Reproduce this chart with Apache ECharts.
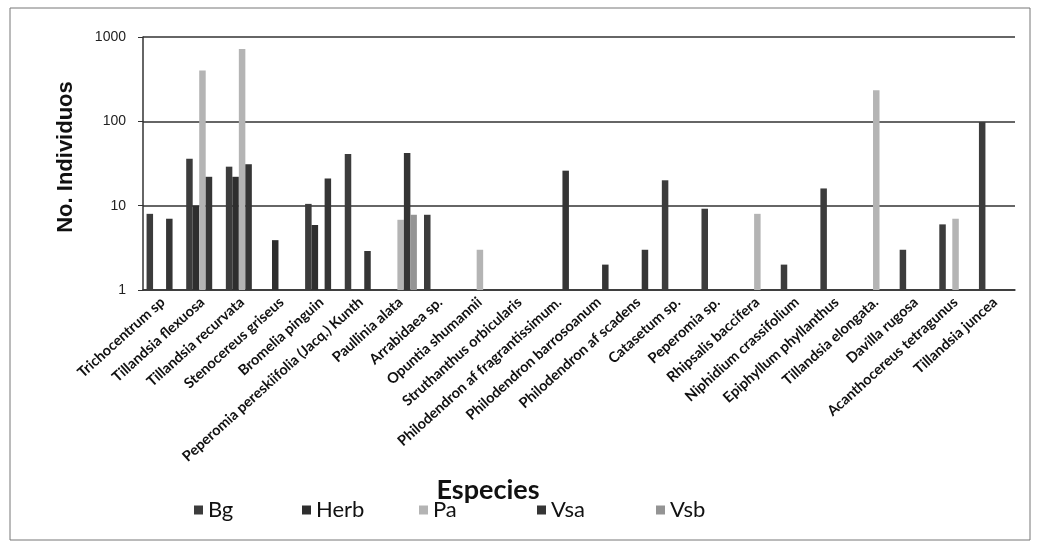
<!DOCTYPE html>
<html>
<head>
<meta charset="utf-8">
<script src="https://cdn.jsdelivr.net/npm/echarts@6/dist/echarts.min.js"></script>
<style>
  html, body { margin: 0; padding: 0; background: #fff; }
  #chart { width: 1040px; height: 545px; }
</style>
</head>
<body>
<div id="chart"></div>
<script>
// especies (eje x)
const especies = [
  'Trichocentrum sp', 'Tillandsia flexuosa', 'Tillandsia recurvata', 'Stenocereus griseus',
  'Bromelia pinguin', 'Peperomia pereskiifolia (Jacq.) Kunth', 'Paullinia alata', 'Arrabidaea sp.',
  'Opuntia shumannii', 'Struthanthus orbicularis', 'Philodendron af fragrantissimum.',
  'Philodendron barrosoanum', 'Philodendron af scadens', 'Catasetum sp.', 'Peperomia sp.',
  'Rhipsalis baccifera', 'Niphidium crassifolium', 'Epiphyllum phyllanthus', 'Tillandsia elongata.',
  'Davilla rugosa', 'Acanthocereus tetragunus', 'Tillandsia juncea'
]

// no. de individuos por sitio (null = sin registro)
const bg   = [8, 36, 29, null, 10.5, 41, null, 7.8, null, null, null, null, null, 20, 9.2, null, 2, 16, null, 3, 6, 98]
const herb = [null, 10, 22, 3.9, 5.9, null, null, null, null, null, null, null, null, null, null, null, null, null, null, null, null, null]
const pa   = [null, 400, 720, null, null, null, 6.8, null, 3, null, null, null, null, null, null, 8, null, null, 233, null, 7, null]
const vsa  = [7, 22, 31, null, 21, 2.9, 42, null, null, null, 26, 2, 3, null, null, null, null, null, null, null, null, null]
const vsb  = [null, null, null, null, null, null, 7.8, null, null, null, null, null, null, null, null, null, null, null, null, null, null, null]

const yTicks = [1, 10, 100, 1000]

const chart = echarts.init(document.getElementById('chart'))

function barSerie(name, data, color) {
  return {
    name: name,
    type: 'bar',
    data: data,
    barWidth: 6.5,
    barGap: '0%',
    itemStyle: { color: color }
  }
}

// una leyenda por serie para colocarlas como en el original
function legendItem(name, left) {
  return {
    data: [name],
    left: left,
    top: 499,
    padding: 0,
    itemWidth: 9,
    itemHeight: 9,
    itemGap: 0,
    icon: 'rect',
    textStyle: { fontFamily: 'Lato', fontSize: 22, color: '#111' }
  }
}

chart.setOption({
  animation: false,
  backgroundColor: '#fff',
  grid: { left: 143, right: 25, top: 37, bottom: 255 },
  legend: [
    legendItem('Bg', 194),
    legendItem('Herb', 302),
    legendItem('Pa', 419),
    legendItem('Vsa', 537),
    legendItem('Vsb', 656)
  ],
  xAxis: {
    type: 'category',
    data: especies,
    axisTick: { show: false },
    axisLine: { lineStyle: { color: '#333', width: 1.5 } },
    axisLabel: {
      interval: 0,
      rotate: 42,
      margin: 10,
      fontFamily: 'Lato',
      fontWeight: 'bold',
      fontSize: 14.5,
      color: '#111'
    }
  },
  yAxis: {
    type: 'log',
    logBase: 10,
    min: yTicks[0],
    max: yTicks[yTicks.length - 1],
    axisLine: { show: true, lineStyle: { color: '#333', width: 1.5 } },
    axisTick: { show: true, length: 5, lineStyle: { color: '#333' } },
    axisLabel: {
      margin: 17,
      fontFamily: 'Liberation Sans',
      fontSize: 14,
      color: '#222',
      formatter: function (v) { return String(v) }
    },
    splitLine: { lineStyle: { color: '#333', width: 1.5 } }
  },
  graphic: [
    {
      type: 'rect',
      shape: { x: 10, y: 8, width: 1020, height: 532 },
      style: { fill: null, stroke: '#777', lineWidth: 1 }
    },
    {
      type: 'text',
      x: 66,
      y: 157,
      rotation: Math.PI / 2,
      style: {
        text: 'No. Individuos',
        align: 'center',
        verticalAlign: 'middle',
        fontFamily: 'Liberation Sans',
        fontWeight: 'bold',
        fontSize: 22,
        fill: '#111'
      }
    },
    {
      type: 'text',
      x: 488,
      y: 490,
      style: {
        text: 'Especies',
        align: 'center',
        verticalAlign: 'middle',
        fontFamily: 'Lato',
        fontWeight: 'bold',
        fontSize: 27,
        fill: '#111'
      }
    }
  ],
  series: [
    barSerie('Bg', bg, '#3c3c3c'),
    barSerie('Herb', herb, '#2e2e2e'),
    barSerie('Pa', pa, '#b4b4b4'),
    barSerie('Vsa', vsa, '#353535'),
    barSerie('Vsb', vsb, '#949494')
  ]
})
</script>
</body>
</html>
